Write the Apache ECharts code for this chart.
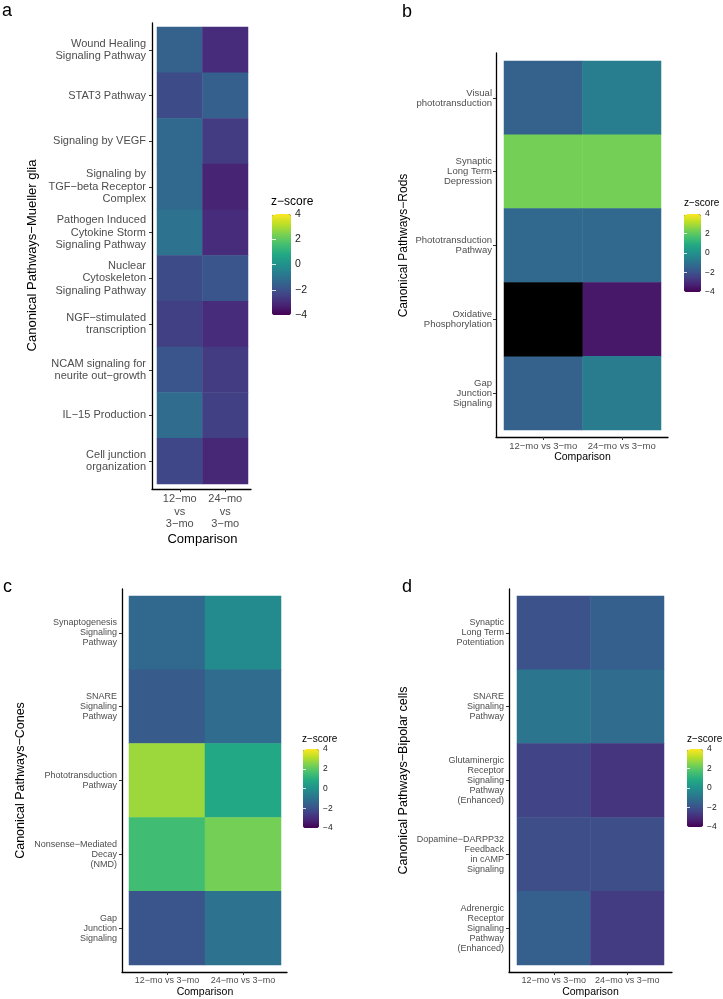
<!DOCTYPE html>
<html><head><meta charset="utf-8">
<script src="https://cdn.jsdelivr.net/npm/echarts@6/dist/echarts.min.js"></script>
<style>html,body{margin:0;padding:0;background:#fff}#c{width:723px;height:999px}</style>
</head><body><div id="c"></div>
<script>
// ---- scale ----
const zMin = -4, zMax = 4, zStep = 2;
const comparisons = ["12−mo vs 3−mo", "24−mo vs 3−mo"];

// ---- panel a: Mueller glia (rows top to bottom) ----
const muellerPathways = ["Wound Healing\nSignaling Pathway", "STAT3 Pathway", "Signaling by VEGF",
  "Signaling by\nTGF−beta Receptor\nComplex", "Pathogen Induced\nCytokine Storm\nSignaling Pathway",
  "Nuclear\nCytoskeleton\nSignaling Pathway", "NGF−stimulated\ntranscription",
  "NCAM signaling for\nneurite out−growth", "IL−15 Production", "Cell junction\norganization"];
const mueller12mo = [-1.5, -2.2, -1.3, -1.3, -1.0, -2.2, -2.5, -1.9, -1.2, -2.3];
const mueller24mo = [-3.0, -1.6, -2.6, -3.2, -3.0, -1.9, -3.0, -2.6, -2.5, -3.1];

// ---- panel b: Rods ----
const rodsPathways = ["Visual\nphototransduction", "Synaptic\nLong Term\nDepression",
  "Phototransduction\nPathway", "Oxidative\nPhosphorylation", "Gap\nJunction\nSignaling"];
const rods12mo = [-1.5, 2.3, -1.3, null, -1.5];   // null = NA (drawn black)
const rods24mo = [-0.6, 2.3, -1.3, -3.5, -0.7];

// ---- panel c: Cones ----
const conesPathways = ["Synaptogenesis\nSignaling\nPathway", "SNARE\nSignaling\nPathway",
  "Phototransduction\nPathway", "Nonsense−Mediated\nDecay\n(NMD)", "Gap\nJunction\nSignaling"];
const cones12mo = [-1.3, -1.7, 2.8, 1.5, -1.9];
const cones24mo = [-0.2, -1.2, 0.8, 2.3, -1.0];

// ---- panel d: Bipolar cells ----
const bipolarPathways = ["Synaptic\nLong Term\nPotentiation", "SNARE\nSignaling\nPathway",
  "Glutaminergic\nReceptor\nSignaling\nPathway\n(Enhanced)", "Dopamine−DARPP32\nFeedback\nin cAMP\nSignaling",
  "Adrenergic\nReceptor\nSignaling\nPathway\n(Enhanced)"];
const bipolar12mo = [-2.0, -0.9, -2.4, -2.1, -1.6];
const bipolar24mo = [-1.6, -1.2, -2.8, -2.1, -2.6];

const viridis = ['#440154','#482475','#414487','#355f8d','#2a788e','#21918c','#22a884','#44bf70','#7ad151','#bddf26','#fde725'];
const FONT = '"Liberation Sans", Arial, sans-serif';
const naColor = '#000000';

const panels = [
  {letter:'a', rows:muellerPathways, v12:mueller12mo, v24:mueller24mo, yName:'Canonical Pathways−Mueller glia',
   L:{letter:[2,2], heat:{left:157,top:27,width:91,height:457}, frame:{left:152,top:23,width:99,height:466},
      yOff:5, xOff:5, font:11, lh:12.5, yMargin:6, xMargin:4, yNameFont:13, xNameFont:13, xNameGap:44, yNameGap:113,
      stackX:true, legTitle:{left:271,top:196,font:12}, bar:{left:272,top:214,width:19,height:101}, legFont:10.5, legMargin:4}},
  {letter:'b', rows:rodsPathways, v12:rods12mo, v24:rods24mo, yName:'Canonical Pathways−Rods',
   L:{letter:[402,3], heat:{left:504,top:61,width:157,height:369}, frame:{left:496,top:53,width:172,height:384},
      yOff:8, xOff:7, font:9.5, lh:10, yMargin:4, xMargin:4, yNameFont:12, xNameFont:10.5, xNameGap:14, yNameGap:86,
      stackX:false, legTitle:{left:684,top:198,font:10}, bar:{left:684,top:214,width:17,height:78}, legFont:8.5, legMargin:4}},
  {letter:'c', rows:conesPathways, v12:cones12mo, v24:cones24mo, yName:'Canonical Pathways−Cones',
   L:{letter:[3,578], heat:{left:129,top:596,width:152,height:369}, frame:{left:122,top:589,width:165,height:383},
      yOff:7, xOff:7, font:9, lh:10, yMargin:5, xMargin:4, yNameFont:12.5, xNameFont:10.5, xNameGap:14, yNameGap:95,
      stackX:false, legTitle:{left:302,top:734,font:10}, bar:{left:303,top:749,width:16,height:79}, legFont:8.5, legMargin:4}},
  {letter:'d', rows:bipolarPathways, v12:bipolar12mo, v24:bipolar24mo, yName:'Canonical Pathways−Bipolar cells',
   L:{letter:[402,578], heat:{left:517,top:596,width:147,height:369}, frame:{left:509,top:589,width:163,height:383},
      yOff:8, xOff:7, font:9, lh:10, yMargin:5, xMargin:4, yNameFont:12.5, xNameFont:10.5, xNameGap:14, yNameGap:99,
      stackX:false, legTitle:{left:687,top:734,font:10}, bar:{left:687,top:749,width:16,height:78}, legFont:8.5, legMargin:4}}
];

const grid = [], xAxis = [], yAxis = [], series = [], visualMap = [], title = [];
const minus = v => (v < 0 ? '−' + Math.abs(v) : String(v));

panels.forEach((p, i) => {
  const L = p.L;
  const gH = grid.length;
  grid.push(Object.assign({containLabel:false, outerBoundsMode:'none'}, L.heat));
  const gF = grid.length;
  grid.push(Object.assign({containLabel:false, outerBoundsMode:'none'}, L.frame));
  const gL = grid.length;
  grid.push(Object.assign({containLabel:false, outerBoundsMode:'none'}, L.bar));

  const xH = xAxis.length;
  xAxis.push({gridIndex:gH, type:'category', data:comparisons, offset:L.xOff,
    axisLine:{show:false}, axisTick:{show:true, alignWithLabel:true, length:3, lineStyle:{color:'#333', width:1}},
    axisLabel:{color:'#4d4d4d', fontSize:L.font, lineHeight:L.lh, fontFamily:FONT, margin:L.xMargin, interval:0,
      formatter: L.stackX ? (v => v.replace(/ /g, '\n')) : (v => v)},
    splitLine:{show:false}, name:'Comparison', nameLocation:'middle', nameGap:L.xNameGap,
    nameTextStyle:{color:'#000', fontSize:L.xNameFont, fontFamily:FONT}});
  const yH = yAxis.length;
  yAxis.push({gridIndex:gH, type:'category', data:p.rows, inverse:true, offset:L.yOff,
    axisLine:{show:false}, axisTick:{show:true, alignWithLabel:true, length:3, lineStyle:{color:'#333', width:1}},
    axisLabel:{color:'#4d4d4d', fontSize:L.font, lineHeight:L.lh, fontFamily:FONT, margin:L.yMargin, interval:0, align:'right'},
    splitLine:{show:false}, name:p.yName, nameLocation:'middle', nameGap:L.yNameGap, nameRotate:90,
    nameTextStyle:{color:'#000', fontSize:L.yNameFont, fontFamily:FONT}});

  xAxis.push({gridIndex:gF, type:'value', min:0, max:1, axisLine:{show:true, onZero:false, lineStyle:{color:'#000', width:1.3}},
    axisTick:{show:false}, axisLabel:{show:false}, splitLine:{show:false}});
  yAxis.push({gridIndex:gF, type:'value', min:0, max:1, axisLine:{show:true, onZero:false, lineStyle:{color:'#000', width:1.3}},
    axisTick:{show:false}, axisLabel:{show:false}, splitLine:{show:false}});

  xAxis.push({gridIndex:gL, type:'value', show:false, min:0, max:1});
  const tickLen = Math.round(L.bar.width / 5);
  yAxis.push({gridIndex:gL, type:'value', min:zMin, max:zMax, interval:zStep, position:'right', z:10,
    axisLine:{show:false}, axisTick:{show:true, inside:true, length:tickLen, lineStyle:{color:'#ffffff', width:1, opacity:0.8}},
    axisLabel:{show:true, color:'#1a1a1a', fontSize:L.legFont, fontFamily:FONT, margin:L.legMargin, formatter:minus},
    splitLine:{show:false}});
  yAxis.push({gridIndex:gL, type:'value', min:zMin, max:zMax, interval:zStep, position:'left', z:10,
    axisLine:{show:false}, axisTick:{show:true, inside:true, length:tickLen, lineStyle:{color:'#ffffff', width:1, opacity:0.8}},
    axisLabel:{show:false}, splitLine:{show:false}});

  const data = [], na = [];
  p.rows.forEach((r, ri) => {
    [p.v12[ri], p.v24[ri]].forEach((v, ci) => {
      if (v === null || v === undefined) na.push([ci, ri, 0]);
      else data.push([ci, ri, v]);
    });
  });
  const sIdx = series.length;
  series.push({type:'heatmap', xAxisIndex:xH, yAxisIndex:yH, data:data, silent:true,
    itemStyle:{borderWidth:0}, emphasis:{disabled:true}});
  if (na.length) {
    series.push({type:'heatmap', xAxisIndex:xH, yAxisIndex:yH, data:na, silent:true,
      itemStyle:{color:naColor, borderWidth:0}, emphasis:{disabled:true}});
  }
  visualMap.push({type:'continuous', seriesIndex:sIdx, dimension:2, min:zMin, max:zMax, calculable:false,
    orient:'vertical', left:L.bar.left, top:L.bar.top, itemWidth:L.bar.width, itemHeight:L.bar.height,
    padding:0, inRange:{color:viridis}, outOfRange:{color:naColor}, hoverLink:false, text:null, z:4,
    textStyle:{fontSize:0}});

  title.push({text:p.letter, left:L.letter[0], top:L.letter[1], padding:0,
    textStyle:{fontSize:18, fontWeight:'normal', color:'#000', fontFamily:FONT}});
  title.push({text:'z−score', left:L.legTitle.left, top:L.legTitle.top, padding:0,
    textStyle:{fontSize:L.legTitle.font, fontWeight:'normal', color:'#000', fontFamily:FONT}});
});

const chart = echarts.init(document.getElementById('c'), null, {renderer:'canvas'});
chart.setOption({animation:false, backgroundColor:'#ffffff', title, grid, xAxis, yAxis, visualMap, series});
</script></body></html>
